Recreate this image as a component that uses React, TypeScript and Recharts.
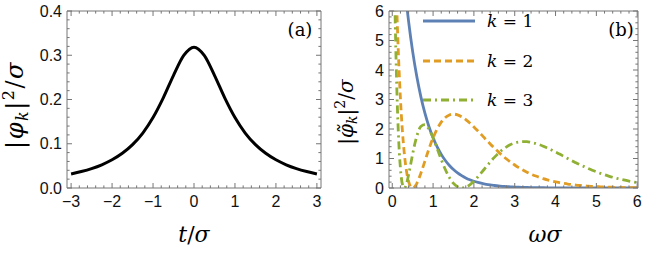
import { Legend, Line, LineChart, XAxis, YAxis } from "recharts";

const FRAME = "#767676";
const SANS = "'Liberation Sans', Arial, sans-serif";
const SERIF = "'DejaVu Serif', 'Liberation Serif', serif";

// panel (a): |phi_k|^2 / sigma against t / sigma
const tGrid = [
  -3, -2.75, -2.5, -2.25, -2, -1.75, -1.5, -1.25, -1, -0.75, -0.5, -0.25, 0,
  0.25, 0.5, 0.75, 1, 1.25, 1.5, 1.75, 2, 2.25, 2.5, 2.75, 3,
];
const pulseValues = [
  0.0318, 0.0372, 0.0439, 0.0525, 0.0637, 0.0784, 0.0979, 0.1242, 0.1592, 0.2037, 0.2546, 0.2996, 0.3183,
  0.2996, 0.2546, 0.2037, 0.1592, 0.1242, 0.0979, 0.0784, 0.0637, 0.0525, 0.0439, 0.0372, 0.0318,
];

// panel (b): spectra for k = 1, 2, 3 against omega * sigma
const omegaGrid = [
  0, 0.05, 0.1, 0.15, 0.2, 0.25, 0.3, 0.35, 0.4, 0.45, 0.5, 0.55, 0.6,
  0.7, 0.8, 0.9, 1, 1.1, 1.2, 1.3, 1.4, 1.5, 1.6, 1.7, 1.8, 1.9, 2,
  2.1, 2.2, 2.3, 2.4, 2.5, 2.6, 2.7, 2.8, 2.9, 3, 3.1, 3.2, 3.3, 3.4, 3.5,
  3.6, 3.7, 3.8, 3.9, 4, 4.1, 4.2, 4.3, 4.4, 4.5, 4.6, 4.7, 4.8, 4.9, 5,
  5.1, 5.2, 5.3, 5.4, 5.5, 5.6, 5.7, 5.8, 5.9, 6,
];
const spectrumK1 = [
  12.566, 11.37, 10.288, 9.309, 8.423, 7.622, 6.896, 6.24, 5.646, 5.109, 4.623, 4.183, 3.785,
  3.099, 2.537, 2.077, 1.701, 1.392, 1.14, 0.933, 0.764, 0.626, 0.512, 0.419, 0.343, 0.281, 0.23,
  0.189, 0.154, 0.126, 0.103, 0.085, 0.069, 0.057, 0.047, 0.038, 0.031, 0.026, 0.021, 0.017, 0.014, 0.011,
  0.009, 0.008, 0.006, 0.005, 0.004, 0.003, 0.003, 0.002, 0.002, 0.002, 0.001, 0.001, 0.001, 0.001, 0.001,
  0, 0, 0, 0, 0, 0, 0, 0, 0, 0,
];
const spectrumK2 = [
  12.566, 9.21, 6.584, 4.561, 3.032, 1.906, 1.103, 0.562, 0.226, 0.051, 0, 0.042, 0.151,
  0.496, 0.913, 1.329, 1.701, 2.004, 2.234, 2.388, 2.475, 2.504, 2.478, 2.413, 2.319, 2.203, 2.07,
  1.93, 1.784, 1.637, 1.493, 1.355, 1.224, 1.1, 0.984, 0.878, 0.78, 0.69, 0.609, 0.536, 0.468, 0.413,
  0.361, 0.315, 0.274, 0.238, 0.206, 0.179, 0.155, 0.133, 0.116, 0.099, 0.085, 0.073, 0.063, 0.054, 0.046,
  0.04, 0.034, 0.029, 0.025, 0.021, 0.018, 0.015, 0.013, 0.011, 0.009,
];
const spectrumK3 = [
  12.566, 7.368, 3.955, 1.843, 0.66, 0.119, 0.003, 0.15, 0.443, 0.797, 1.156, 1.481, 1.75,
  2.084, 2.147, 1.995, 1.701, 1.337, 0.965, 0.627, 0.353, 0.157, 0.04, 0, 0.027, 0.108, 0.23,
  0.38, 0.545, 0.715, 0.882, 1.038, 1.178, 1.298, 1.396, 1.474, 1.529, 1.559, 1.575, 1.569, 1.544, 1.516,
  1.472, 1.416, 1.353, 1.289, 1.217, 1.149, 1.074, 0.997, 0.93, 0.856, 0.789, 0.724, 0.661, 0.603, 0.549,
  0.497, 0.449, 0.405, 0.364, 0.328, 0.294, 0.263, 0.234, 0.209, 0.185,
];

const series = [
  { key: "k1", label: "1", color: "#5E81B5", dash: undefined as string | undefined },
  { key: "k2", label: "2", color: "#E19C24", dash: "7 4" },
  { key: "k3", label: "3", color: "#8FB032", dash: "8 4 2 4" },
];

const pulseData = tGrid.map((t, i) => ({ t, v: pulseValues[i] }));
const spectrumData = omegaGrid.map((w, i) => ({
  w,
  k1: spectrumK1[i],
  k2: spectrumK2[i],
  k3: spectrumK3[i],
}));

// frame ticks: majors carry labels, minors are short marks
function steps(from: number, to: number, step: number) {
  const n = Math.round((to - from) / step);
  return Array.from({ length: n + 1 }, (_, i) => +(from + i * step).toFixed(4));
}
const tTicks = steps(-3, 3, 0.2);
const pulseTicks = steps(0, 0.4, 0.02);
const omegaTicks = steps(0, 6, 0.2);
const spectrumTicks = steps(0, 6, 0.2);

type Side = "bottom" | "top" | "left" | "right";

const signed = (v: number) => String(v).replace("-", "\u2212");

function frameTick(side: Side, majorStep: number, fmt?: (v: number) => string) {
  return (props: any) => {
    const { x, y, payload } = props;
    const v = payload.value as number;
    const r = v / majorStep;
    const major = Math.abs(r - Math.round(r)) < 1e-6;
    const len = major ? 5 : 2.6;
    let x2 = x;
    let y2 = y;
    if (side === "bottom") y2 = y - len;
    if (side === "top") y2 = y + len;
    if (side === "left") x2 = x + len;
    if (side === "right") x2 = x - len;
    let label = null;
    if (major && fmt) {
      const common = { fontFamily: SANS, fontSize: 16, fill: "#111" };
      if (side === "bottom")
        label = (
          <text x={x} y={y + 8} dy="0.71em" textAnchor="middle" {...common}>
            {fmt(v)}
          </text>
        );
      if (side === "left")
        label = (
          <text x={x - 5} y={y} dy="0.355em" textAnchor="end" {...common}>
            {fmt(v)}
          </text>
        );
    }
    return (
      <g>
        <line x1={x} y1={y} x2={x2} y2={y2} stroke={FRAME} strokeWidth={1} />
        {label}
      </g>
    );
  };
}

const axisLine = { stroke: FRAME, strokeWidth: 1 };

function SpectrumLegend() {
  const rows = [10, 50, 89];
  return (
    <svg width={140} height={100} style={{ overflow: "visible" }}>
      {series.map((s, i) => (
        <g key={s.key}>
          <line
            x1={0}
            x2={52}
            y1={rows[i]}
            y2={rows[i]}
            stroke={s.color}
            strokeWidth={2.8}
            strokeDasharray={s.dash}
          />
          <text x={64} y={rows[i] + 6} fontFamily={SERIF} fontSize={17} fill="#000">
            <tspan fontStyle="italic">k</tspan> = {s.label}
          </text>
        </g>
      ))}
    </svg>
  );
}

// shared frame: labelled bottom/left axes plus bare top/right axes
function frameAxes(
  xKey: string,
  xDomain: [number, number],
  xTicks: number[],
  xFmt: (v: number) => string,
  yDomain: [number, number],
  yTicks: number[],
  yMajor: number,
  yFmt: (v: number) => string,
) {
  const common = {
    type: "number" as const,
    interval: 0 as const,
    tickSize: 0,
    tickMargin: 0,
    tickLine: false,
    axisLine,
    allowDataOverflow: true,
  };
  return [
    <XAxis key="xb" xAxisId="b" dataKey={xKey} {...common} domain={xDomain} ticks={xTicks} height={1} tick={frameTick("bottom", 1, xFmt)} />,
    <XAxis key="xt" xAxisId="t" dataKey={xKey} orientation="top" {...common} domain={xDomain} ticks={xTicks} height={1} tick={frameTick("top", 1)} />,
    <YAxis key="yl" yAxisId="l" {...common} domain={yDomain} ticks={yTicks} width={1} tick={frameTick("left", yMajor, yFmt)} />,
    <YAxis key="yr" yAxisId="r" orientation="right" {...common} domain={yDomain} ticks={yTicks} width={1} tick={frameTick("right", yMajor)} />,
  ];
}

export default function App() {
  return (
    <div style={{ position: "absolute", left: 0, top: 0, width: 648, height: 254, background: "#fff" }}>
      <div style={{ position: "absolute", left: 0, top: 0 }}>
        <LineChart width={330} height={254} data={pulseData} margin={{ top: 10, right: 8, bottom: 65, left: 66 }}>
          {frameAxes("t", [-3.1, 3.1], tTicks, signed, [0, 0.4], pulseTicks, 0.1, (v) => v.toFixed(1))}
          {/* invisible twin so the top/right frame axes get a scale */}
          <Line
            xAxisId="t"
            yAxisId="r"
            dataKey="v"
            stroke="transparent"
            dot={false}
            activeDot={false}
            legendType="none"
            isAnimationActive={false}
          />
          <Line
            xAxisId="b"
            yAxisId="l"
            dataKey="v"
            type="monotone"
            stroke="#000"
            strokeWidth={3}
            dot={false}
            activeDot={false}
            isAnimationActive={false}
          />
        </LineChart>
      </div>
      <div style={{ position: "absolute", left: 330, top: 0 }}>
        <LineChart width={318} height={254} data={spectrumData} margin={{ top: 10, right: 9, bottom: 65, left: 58 }}>
          {frameAxes("w", [-0.08, 6.02], omegaTicks, String, [0, 6], spectrumTicks, 1, String)}
          <Line
            xAxisId="t"
            yAxisId="r"
            dataKey="k3"
            stroke="transparent"
            dot={false}
            activeDot={false}
            legendType="none"
            isAnimationActive={false}
          />
          {series.map((s) => (
            <Line
              key={s.key}
              xAxisId="b"
              yAxisId="l"
              dataKey={s.key}
              type="monotone"
              stroke={s.color}
              strokeWidth={2.8}
              strokeDasharray={s.dash}
              dot={false}
              activeDot={false}
              isAnimationActive={false}
            />
          ))}
          <Legend
            layout="vertical"
            align="center"
            verticalAlign="middle"
            content={() => <SpectrumLegend />}
            wrapperStyle={{ left: 93, top: 11, width: 140, height: 100 }}
          />
        </LineChart>
      </div>
      <svg
        width={648}
        height={254}
        style={{ position: "absolute", left: 0, top: 0, pointerEvents: "none" }}
        fontFamily={SERIF}
      >
        <text
          transform="translate(23,105) rotate(-90)"
          textAnchor="middle"
          fontSize={24}
          letterSpacing={1.5}
          fill="#000"
        >
          <tspan>|</tspan>
          <tspan fontStyle="italic">φ</tspan>
          <tspan fontStyle="italic" fontSize={16} dy={5}>k</tspan>
          <tspan dy={-5}>|</tspan>
          <tspan fontSize={16} dy={-9}>2</tspan>
          <tspan dy={9}>/</tspan>
          <tspan fontStyle="italic">σ</tspan>
        </text>
        <text transform="translate(353,112) rotate(-90)" textAnchor="middle" fontSize={20} fill="#000">
          <tspan>|</tspan>
          <tspan fontStyle="italic">{"φ\u0303"}</tspan>
          <tspan fontStyle="italic" fontSize={14} dy={4}>k</tspan>
          <tspan dy={-4}>|</tspan>
          <tspan fontSize={14} dy={-8}>2</tspan>
          <tspan dy={8}>/</tspan>
          <tspan fontStyle="italic">σ</tspan>
        </text>
        <text x={194} y={242} textAnchor="middle" fontSize={22} fill="#000">
          <tspan fontStyle="italic">t</tspan>
          <tspan>/</tspan>
          <tspan fontStyle="italic">σ</tspan>
        </text>
        <text x={545} y={242} textAnchor="middle" fontSize={22} fill="#000" fontStyle="italic">
          ωσ
        </text>
        <text x={300} y={36} textAnchor="middle" fontSize={18} fill="#000">
          (a)
        </text>
        <text x={621} y={36} textAnchor="middle" fontSize={18} fill="#000">
          (b)
        </text>
      </svg>
    </div>
  );
}
